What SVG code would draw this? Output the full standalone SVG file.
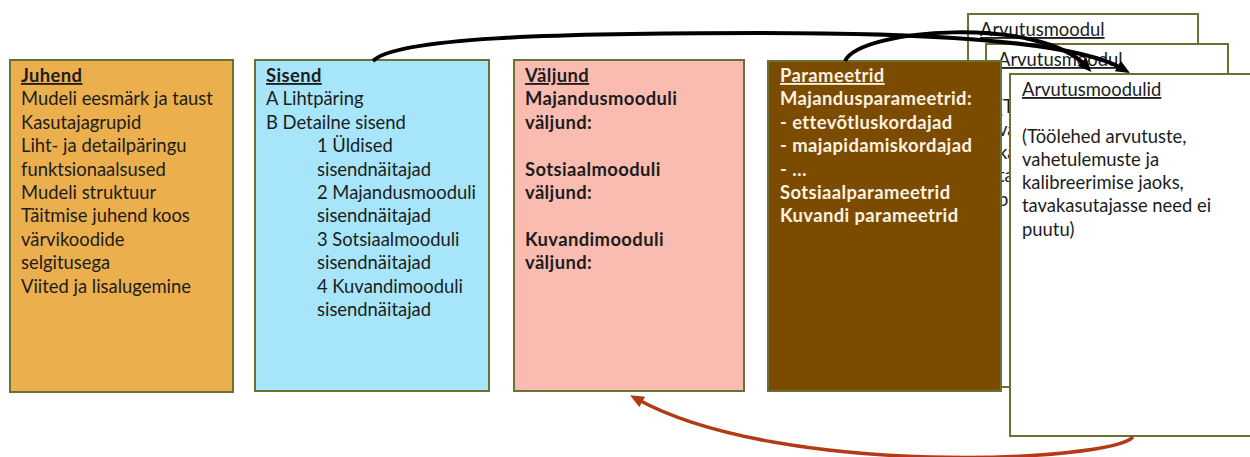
<svg xmlns="http://www.w3.org/2000/svg" width="1250" height="457" viewBox="0 0 1250 457">
  <style>
    .box { stroke: #6b7133; stroke-width: 2; }
    .txt { font-family: Lato, "Noto Sans", sans-serif; font-size: 18.4px; fill: #1c1c1c; }
    .b { font-weight: bold; letter-spacing: 0.4px; }
    .u { text-decoration: underline; }
    .light { fill: #fbf3e2; }
    .link { fill: none; stroke: #000; stroke-width: 4; }
    .back { fill: none; stroke: #b23a14; stroke-width: 3.5; }
  </style>
  <defs>
    <marker id="headBlack" markerUnits="userSpaceOnUse" markerWidth="16" markerHeight="14" refX="6" refY="6" orient="auto">
      <path d="M0,0 L14,6 L0,12 z" fill="#000"/>
    </marker>
    <marker id="headRed" markerUnits="userSpaceOnUse" markerWidth="16" markerHeight="14" refX="6" refY="6" orient="auto">
      <path d="M0,0 L14,6 L0,12 z" fill="#b23a14"/>
    </marker>
  </defs>
  <rect width="1250" height="457" fill="#fff"/>

  <g id="juhend">
    <rect class="box" x="10" y="60" width="223" height="332" fill="#ecaf4e"/>
    <text class="txt" x="21" y="82"><tspan class="b u">Juhend</tspan>
      <tspan x="21" dy="23.4">Mudeli eesmärk ja taust</tspan>
      <tspan x="21" dy="23.4">Kasutajagrupid</tspan>
      <tspan x="21" dy="23.4">Liht- ja detailpäringu</tspan>
      <tspan x="21" dy="23.4">funktsionaalsused</tspan>
      <tspan x="21" dy="23.4">Mudeli struktuur</tspan>
      <tspan x="21" dy="23.4">Täitmise juhend koos</tspan>
      <tspan x="21" dy="23.4">värvikoodide</tspan>
      <tspan x="21" dy="23.4">selgitusega</tspan>
      <tspan x="21" dy="23.4">Viited ja lisalugemine</tspan>
    </text>
  </g>

  <g id="sisend">
    <rect class="box" x="255" y="60" width="234" height="331" fill="#a7e6fa"/>
    <text class="txt" x="266" y="82"><tspan class="b u">Sisend</tspan>
      <tspan x="266" dy="23.4">A Lihtpäring</tspan>
      <tspan x="266" dy="23.4">B Detailne sisend</tspan>
      <tspan x="317" dy="23.4">1 Üldised</tspan>
      <tspan x="317" dy="23.4">sisendnäitajad</tspan>
      <tspan x="317" dy="23.4">2 Majandusmooduli</tspan>
      <tspan x="317" dy="23.4">sisendnäitajad</tspan>
      <tspan x="317" dy="23.4">3 Sotsiaalmooduli</tspan>
      <tspan x="317" dy="23.4">sisendnäitajad</tspan>
      <tspan x="317" dy="23.4">4 Kuvandimooduli</tspan>
      <tspan x="317" dy="23.4">sisendnäitajad</tspan>
    </text>
  </g>

  <g id="valjund">
    <rect class="box" x="514" y="60" width="230" height="331" fill="#fabcb1"/>
    <text class="txt b" x="525" y="82"><tspan class="u">Väljund</tspan>
      <tspan x="525" dy="23.4">Majandusmooduli</tspan>
      <tspan x="525" dy="23.4">väljund:</tspan>
      <tspan x="525" dy="46.8">Sotsiaalmooduli</tspan>
      <tspan x="525" dy="23.4">väljund:</tspan>
      <tspan x="525" dy="46.8">Kuvandimooduli</tspan>
      <tspan x="525" dy="23.4">väljund:</tspan>
    </text>
  </g>

  <!-- stacked calculation module sheets, back to front -->
  <g id="arvutusmoodul-1">
    <rect class="box" x="968" y="14" width="230" height="343" fill="#fff"/>
    <text class="txt u" x="980" y="36">Arvutusmoodul</text>
  </g>

  <g id="arvutusmoodul-2">
    <rect class="box" x="986" y="44" width="242" height="343" fill="#fff"/>
    <text class="txt" x="998" y="66"><tspan class="u">Arvutusmoodul</tspan>
      <tspan x="998" dy="46.8">(Töölehed arvutuste,</tspan>
      <tspan x="998" dy="23.2">vahetulemuste ja</tspan>
      <tspan x="998" dy="23.2">kalibreerimise jaoks,</tspan>
      <tspan x="998" dy="23.2">tavakasutajasse need ei</tspan>
      <tspan x="998" dy="23.2">puutu)</tspan>
    </text>
  </g>

  <g id="parameetrid">
    <rect class="box" x="768" y="61" width="233" height="330" fill="#7b4b00"/>
    <text class="txt b light" x="780" y="82"><tspan class="u">Parameetrid</tspan>
      <tspan x="780" dy="23.4">Majandusparameetrid:</tspan>
      <tspan x="780" dy="23.4">- ettevõtluskordajad</tspan>
      <tspan x="780" dy="23.4">- majapidamiskordajad</tspan>
      <tspan x="780" dy="23.4">- …</tspan>
      <tspan x="780" dy="23.4">Sotsiaalparameetrid</tspan>
      <tspan x="780" dy="23.4">Kuvandi parameetrid</tspan>
    </text>
  </g>

  <g id="arvutusmoodulid">
    <rect class="box" x="1010" y="74" width="252" height="362" fill="#fff"/>
    <text class="txt" x="1022" y="96"><tspan class="u">Arvutusmoodulid</tspan>
      <tspan x="1022" dy="46.8">(Töölehed arvutuste,</tspan>
      <tspan x="1022" dy="23.2">vahetulemuste ja</tspan>
      <tspan x="1022" dy="23.2">kalibreerimise jaoks,</tspan>
      <tspan x="1022" dy="23.2">tavakasutajasse need ei</tspan>
      <tspan x="1022" dy="23.2">puutu)</tspan>
    </text>
  </g>

  <g id="connectors">
    <path class="link" d="M373,61 C395,38 550,33 760,33 C900,33 1070,38 1123,69" marker-end="url(#headBlack)"/>
    <path class="link" d="M845,61 C860,28 1040,16 1086,66" marker-end="url(#headBlack)"/>
    <path class="back" d="M1133,437 C1110,462 780,478 637,399" marker-end="url(#headRed)"/>
  </g>
</svg>
